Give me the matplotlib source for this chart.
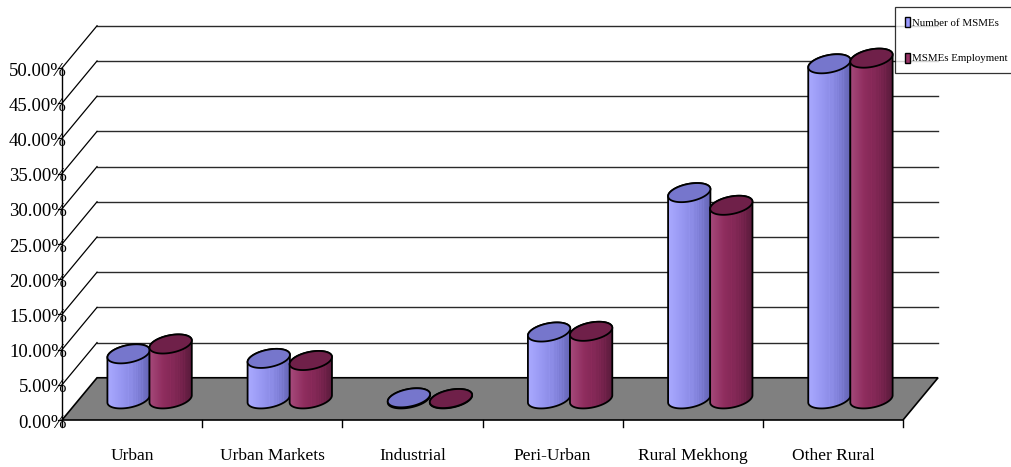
import numpy as np
import matplotlib
matplotlib.use("Agg")
import matplotlib.pyplot as plt
from matplotlib.patches import Polygon, Patch
from matplotlib.colors import LinearSegmentedColormap

# ---- data -------------------------------------------------------------
categories = ["Urban", "Urban Markets", "Industrial", "Peri-Urban",
              "Rural Mekhong", "Other Rural"]
num_msmes = [6.4, 5.75, 0.15, 9.5, 29.3, 47.6]          # % of MSMEs
msme_employment = [7.8, 5.45, 0.05, 9.6, 27.5, 48.4]    # % of employment
series_names = ["Number of MSMEs", "MSMEs Employment"]
y_ticks = [0, 5, 10, 15, 20, 25, 30, 35, 40, 45, 50]
y_tick_labels = [f"{v:.2f}%" for v in y_ticks]

# ---- styling ----------------------------------------------------------
FONT = "Liberation Serif"
DX, DZ = 0.25, 6.0          # oblique offset of the full floor depth
R = 0.14                    # cylinder radius (category units)
D = 0.226                   # cylinder radius along depth (fraction of floor depth)
OFFSETS = [-0.15, 0.15]
body_cmaps = [
    LinearSegmentedColormap.from_list("b", ["#aaaaff", "#9797f2", "#8383dc", "#6464b4"]),
    LinearSegmentedColormap.from_list("r", ["#a64a7c", "#8f2d5e", "#7c2551", "#5a1b3c"]),
]
top_colors = ["#7676cc", "#6f2049"]
legend_colors = ["#9999ff", "#993366"]

W, H = 1011, 467
fig = plt.figure(figsize=(W / 100, H / 100), dpi=100)
ax = fig.add_axes([0, 0, 1, 1])
ax.set_axis_off()

ncat = len(categories)


def proj(x, z, depth):
    """Oblique projection of (category x, value z, depth 0..1)."""
    return x + DX * depth, z + DZ * depth


# floor
floor = [proj(0, 0, 0), proj(ncat, 0, 0), proj(ncat, 0, 1), proj(0, 0, 1)]
ax.add_patch(Polygon(floor, closed=True, facecolor="#808080",
                     edgecolor="black", lw=1.2, zorder=1))

# back-wall gridlines and side-wall diagonals
for v, lab in zip(y_ticks, y_tick_labels):
    (x0, y0), (x1, y1) = proj(0, v, 1), proj(ncat, v, 1)
    if v > 0:
        ax.plot([x0, x1], [y0, y1], color="#2a2a2a", lw=1.0, zorder=0.5)
        (a0, b0) = proj(0, v, 0)
        ax.plot([a0, x0], [b0, y0], color="black", lw=0.9, zorder=0.5)
    # value axis ticks and labels
    ax.plot([-0.03, 0], [v, v], color="black", lw=0.9, zorder=2)
    ax.text(0.035, v - 0.45, lab, ha="right", va="center", family=FONT,
            fontsize=13.5, zorder=1.5)

# front value axis
ax.plot([0, 0], [0, max(y_ticks)], color="black", lw=1.0, zorder=2)

# category ticks and labels
for k in range(ncat + 1):
    ax.plot([k, k], [0, -1.0], color="black", lw=1.0, zorder=2)
for i, c in enumerate(categories):
    ax.text(i + 0.5, -5.1, c, ha="center", va="center", family=FONT,
            fontsize=12.5)

# cylinder shading texture: horizontal gradient with a few light streaks
grad = np.linspace(0, 1, 200)
streak_pos = [0.50, 0.56, 0.60, 0.66, 0.71, 0.77, 0.83]
tex = grad.copy()
for s in streak_pos:
    tex[np.abs(grad - s) < 0.008] -= 0.12
tex = np.clip(tex, 0, 1)[None, :]

t = np.linspace(0, 2 * np.pi, 241)
tstar = np.arctan2(DX * D, R)


def ellipse_pts(cx, z, tt):
    xs = cx + R * np.cos(tt) + DX * D * np.sin(tt)
    ys = z + DZ * (0.5 + D * np.sin(tt))
    return xs, ys


for s_idx, values in enumerate([num_msmes, msme_employment]):
    for i, val in enumerate(values):
        cx = i + 0.5 + OFFSETS[s_idx] + DX * 0.5
        zo = 3 + s_idx + i * 0.01
        # bottom front arc (leftmost -> front -> rightmost)
        tb = np.linspace(tstar + np.pi, tstar + 2 * np.pi, 120)
        bx, by = ellipse_pts(cx, 0, tb)
        # top back arc (rightmost -> back -> leftmost)
        tt = np.linspace(tstar, tstar + np.pi, 120)
        tx, ty = ellipse_pts(cx, val, tt)
        body = np.column_stack([np.concatenate([bx, tx]),
                                np.concatenate([by, ty])])
        body_patch = Polygon(body, closed=True, facecolor="none",
                             edgecolor="black", lw=1.3, zorder=zo + 0.001)
        ax.add_patch(body_patch)
        xmin, xmax = body[:, 0].min(), body[:, 0].max()
        ymin, ymax = body[:, 1].min(), body[:, 1].max()
        im = ax.imshow(tex, cmap=body_cmaps[s_idx], vmin=0, vmax=1,
                       extent=[xmin, xmax, ymin, ymax], aspect="auto",
                       interpolation="bilinear", zorder=zo)
        im.set_clip_path(body_patch)
        ex, ey = ellipse_pts(cx, val, t)
        ax.add_patch(Polygon(np.column_stack([ex, ey]), closed=True,
                             facecolor=top_colors[s_idx], edgecolor="black",
                             lw=1.3, zorder=zo + 0.002))

# legend
handles = [Patch(facecolor=legend_colors[k], edgecolor="black", lw=1.0,
                 label=series_names[k]) for k in range(2)]
leg = fig.legend(handles=handles, loc="upper left",
                 bbox_to_anchor=(895 / W, 1 - 7 / H), frameon=True,
                 fancybox=False, shadow=False, borderpad=0.9,
                 handlelength=0.5, handleheight=1.1, handletextpad=0.2,
                 labelspacing=2.3, borderaxespad=0,
                 prop={"family": FONT, "size": 7.8})
leg.get_frame().set_edgecolor("black")
leg.get_frame().set_linewidth(0.9)

# pixel-matched data limits
ux = ncat / 841.0       # category units per pixel
uy = 50 / 352.0         # percent per pixel
ax.set_xlim(-62 * ux, (W - 62) * ux)
ax.set_ylim(-(H - 420) * uy, 420 * uy)

fig.savefig("out.png", dpi=100)
